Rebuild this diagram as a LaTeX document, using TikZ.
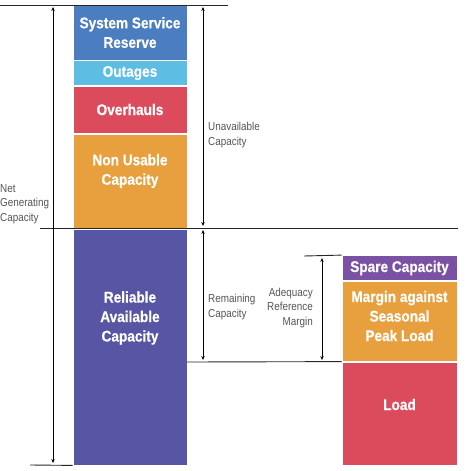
\documentclass[tikz,border=0pt]{standalone}
\usepackage{fontspec}
\setmainfont{Liberation Sans}
\newfontfamily\blockfont[FakeStretch=0.88,FakeBold=0.4]{Liberation Sans}
\newfontfamily\notefont[FakeStretch=0.86]{Liberation Sans}
\usepackage{xcolor}
\usetikzlibrary{arrows.meta,positioning}
\definecolor{reserveblue}{HTML}{4A7EC0}
\definecolor{outagecyan}{HTML}{5DBDE3}
\definecolor{overhaulred}{HTML}{DB4B5B}
\definecolor{nonusableorange}{HTML}{E8A03F}
\definecolor{reliableindigo}{HTML}{5856A4}
\definecolor{sparepurple}{HTML}{7B52A3}
\definecolor{notegray}{HTML}{555555}

\begin{document}
\begin{tikzpicture}[
  x=1pt, y=-1pt,
  >={Stealth[length=4pt,width=3.4pt]},
  capblock/.style={rectangle, draw=white, line width=0.8pt, minimum width=114pt, inner sep=0pt},
  captext/.style={inner sep=0pt, align=center, text=white, font=\blockfont\fontsize{15.5}{19.5}\selectfont\bfseries},
  note/.style={inner sep=0pt, text=notegray, font=\notefont\fontsize{11.5}{14.5}\selectfont},
  rule/.style={draw=black!85, line width=0.9pt},
  span/.style={<->, draw=black, line width=0.7pt}
]
  \useasboundingbox (0,0) rectangle (466,471);
  % left column
  \node[capblock, fill=reserveblue, minimum height=55pt] (ssr) at (130,32.5) {};
  \node[capblock, fill=outagecyan, minimum height=25pt] (outg) at (130,73) {};
  \node[capblock, fill=overhaulred, minimum height=47pt] (ovh) at (130,109.5) {};
  \node[capblock, fill=nonusableorange, minimum height=94pt] (nuc) at (130,181) {};
  \node[capblock, fill=reliableindigo, minimum height=236pt] (rac) at (130,347) {};
  \node[captext] (ssrtxt) at (ssr) {System Service\\Reserve};
  \node[captext] (outgtxt) at (outg) {Outages};
  \node[captext] (ovhtxt) at (ovh) {Overhauls};
  \node[captext, yshift=10pt] (nuctxt) at (nuc) {Non Usable\\Capacity};
  \node[captext, yshift=29pt] (ractxt) at (rac) {Reliable\\Available\\Capacity};
  % right column
  \node[capblock, fill=sparepurple, minimum width=115pt, minimum height=25pt] (spare) at (399.5,268) {};
  \node[capblock, fill=nonusableorange, minimum width=115pt, minimum height=80pt] (marg) at (399.5,321) {};
  \node[capblock, fill=overhaulred, minimum width=115pt, minimum height=103pt] (load) at (399.5,413.5) {};
  \node[captext] (sparetxt) at (spare) {Spare Capacity};
  \node[captext, yshift=5pt] (margtxt) at (marg) {Margin against\\Seasonal\\Peak Load};
  \node[captext, yshift=9pt] (loadtxt) at (load) {Load};
  % reference levels
  \coordinate (topL) at (0,5);
  \coordinate (topR) at (228,5);
  \coordinate (midL) at (40,228);
  \coordinate (midR) at (458,228);
  \coordinate (lowL) at (187,362);
  \coordinate (adqL) at (304,256);
  \coordinate (botL) at (30,465);
  \draw[rule] (topL) -- (topR);
  \draw[rule] (midL) -- (midR);
  \draw[rule] (lowL) -- (load.north west);
  \draw[rule] (adqL) -- (spare.north west);
  \draw[rule] (botL) -- (rac.south west);
  % spans
  \coordinate (netT) at (53,7);
  \coordinate (netB) at (53,463);
  \coordinate (unaT) at (203,7);
  \coordinate (unaB) at (203,226);
  \coordinate (remT) at (203,230);
  \coordinate (remB) at (203,360);
  \coordinate (adqT) at (322,258);
  \coordinate (adqB) at (322,360);
  \draw[span] (netT) -- (netB);
  \draw[span] (unaT) -- (unaB);
  \draw[span] (remT) -- (remB);
  \draw[span] (adqT) -- (adqB);
  % labels
  \node[note, anchor=west, align=left] (netlbl) at (0,204) {Net\\Generating\\Capacity};
  \node[note, anchor=west, align=left] (unalbl) at (208,135) {Unavailable\\Capacity};
  \node[note, anchor=west, align=left] (remlbl) at (208,307) {Remaining\\Capacity};
  \node[note, anchor=east, align=right] (adqlbl) at (313,308) {Adequacy\\Reference\\Margin};
\end{tikzpicture}
\end{document}
